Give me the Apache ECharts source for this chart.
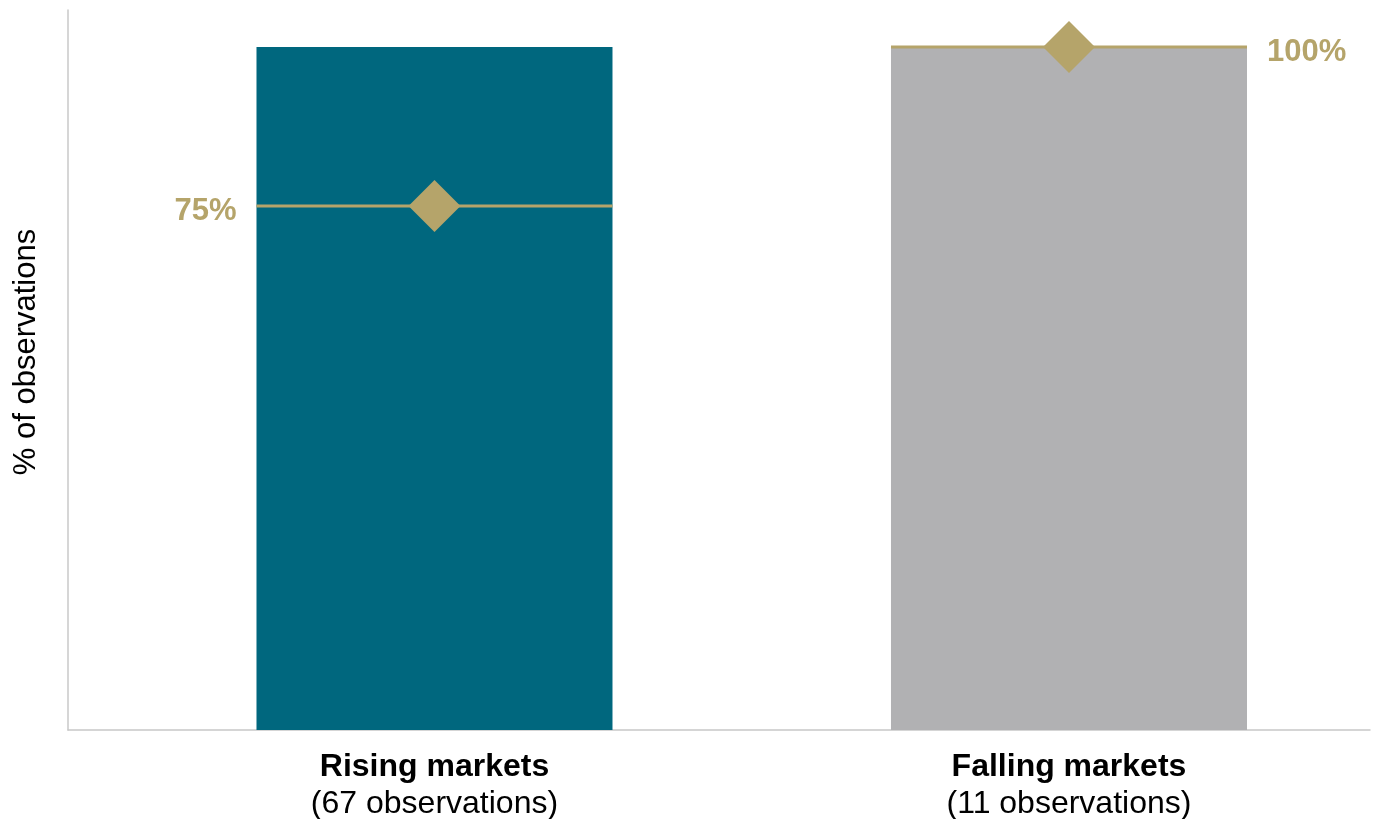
<!DOCTYPE html>
<html>
<head>
<meta charset="utf-8">
<script src="https://cdn.jsdelivr.net/npm/echarts@6/dist/echarts.min.js"></script>
<style>html,body{margin:0;padding:0;background:#fff;}#c{width:1381px;height:819px;}</style>
</head>
<body>
<div id="c"></div>
<script>
const categories = ['Rising markets', 'Falling markets'];
const subtitles = ['(67 observations)', '(11 observations)'];
const barValues = [100, 100];
const markerValues = [75, 100];
const markerLabelSide = ['left', 'right'];

const barColors = ['#00677e', '#b1b1b3'];
const gold = '#b5a46a';
const font = '"Liberation Sans", Arial, sans-serif';

const chart = echarts.init(document.getElementById('c'));
chart.setOption({
  animation: false,
  grid: { left: 68, right: 11, top: 10, bottom: 89 },
  xAxis: {
    type: 'value', min: -0.5776, max: 1.4744,
    axisLine: { show: true, onZero: false, lineStyle: { color: '#c8c8c8', width: 1.5 } },
    axisTick: { show: false }, axisLabel: { show: false }, splitLine: { show: false }
  },
  yAxis: [{
    type: 'value', min: 0, max: 105.4,
    name: '% of observations', nameLocation: 'middle', nameGap: 26,
    nameTextStyle: { fontFamily: font, fontSize: 31, color: '#000', padding: [0, 0, 0, 36] },
    axisLine: { show: true, onZero: false, lineStyle: { color: '#c8c8c8', width: 1.5 } },
    axisTick: { show: false }, axisLabel: { show: false }, splitLine: { show: false }
  }, {
    type: 'value', min: -7.4, max: 105.8, show: false
  }],
  series: [
    {
      type: 'bar', barWidth: 356, yAxisIndex: 0,
      data: categories.map((c, i) => ({ value: [i, barValues[i]], itemStyle: { color: barColors[i] } })),
      label: {
        show: true, position: 'bottom', distance: 19,
        formatter: p => '{b|' + categories[p.dataIndex] + '}\n{n|' + subtitles[p.dataIndex] + '}',
        rich: {
          b: { fontFamily: font, fontSize: 32, fontWeight: 'bold', color: '#000', lineHeight: 37, align: 'center' },
          n: { fontFamily: font, fontSize: 32, color: '#000', lineHeight: 37, align: 'center' }
        }
      },
      z: 1
    },
    {
      type: 'scatter', yAxisIndex: 1, symbol: 'rect', symbolSize: [356, 3],
      itemStyle: { color: gold, opacity: 1 },
      data: markerValues.map((v, i) => ({
        value: [i, v],
        label: { position: markerLabelSide[i] }
      })),
      label: {
        show: true, distance: 20, offset: [0, 6],
        formatter: p => markerValues[p.dataIndex] + '%',
        fontFamily: font, fontSize: 31, fontWeight: 'bold', color: gold
      },
      z: 3
    },
    {
      type: 'scatter', yAxisIndex: 1, symbol: 'diamond', symbolSize: [52, 52],
      itemStyle: { color: gold, opacity: 1 },
      data: markerValues.map((v, i) => [i, v]),
      z: 4
    }
  ]
});
</script>
</body>
</html>
